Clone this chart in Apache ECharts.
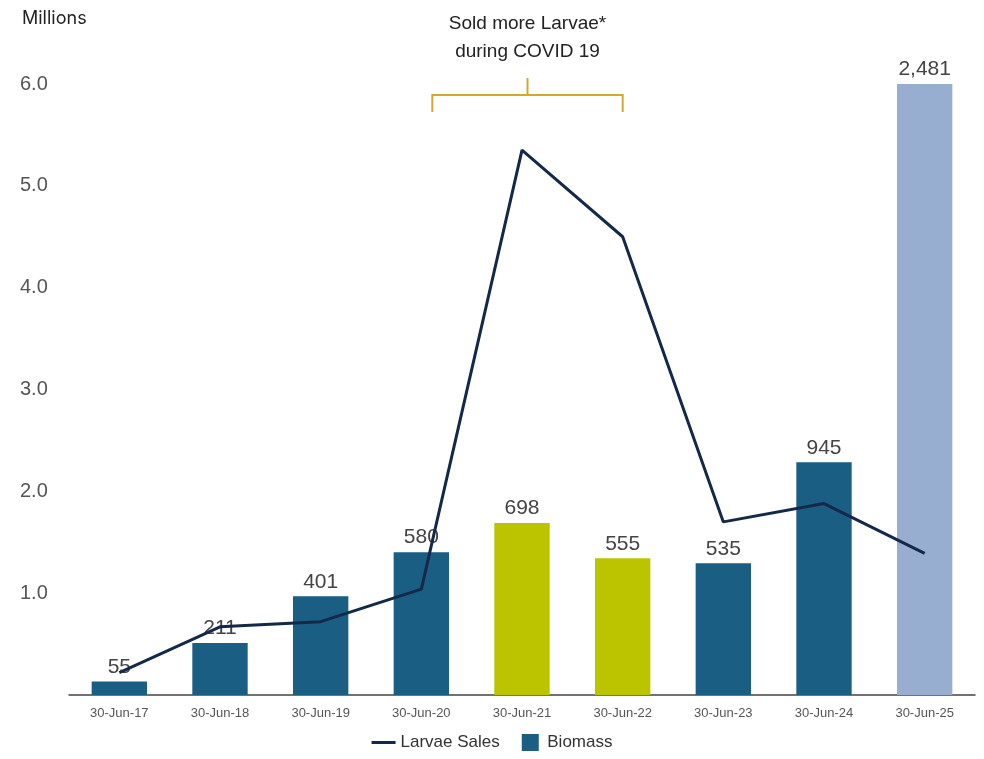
<!DOCTYPE html>
<html><head><meta charset="utf-8">
<script src="https://cdn.jsdelivr.net/npm/echarts@6/dist/echarts.min.js"></script>
<style>html,body{margin:0;padding:0;background:#fff}#c{width:984px;height:759px}</style>
</head><body><div id="c"></div>
<script>
const categories = ['30-Jun-17','30-Jun-18','30-Jun-19','30-Jun-20','30-Jun-21','30-Jun-22','30-Jun-23','30-Jun-24','30-Jun-25'];
const biomass = [55, 211, 401, 580, 698, 555, 535, 945, 2481];
const larvaeSales = [0.22, 0.67, 0.72, 1.04, 5.35, 4.50, 1.70, 1.88, 1.39];
const barColors = ['#1b5e84','#1b5e84','#1b5e84','#1b5e84','#bcc400','#bcc400','#1b5e84','#1b5e84','#98aed0'];
const yTicks = [0, 1, 2, 3, 4, 5, 6];

const FONT = 'Liberation Sans, Arial, sans-serif';
const chart = echarts.init(document.getElementById('c'));
chart.setOption({
  animation: false,
  textStyle: { fontFamily: FONT },
  grid: { left: 69, right: 9, top: 84, bottom: 64 },
  xAxis: {
    type: 'category', data: categories,
    axisLine: { lineStyle: { color: '#444', width: 1.5 } },
    axisTick: { show: false },
    axisLabel: { color: '#555', fontSize: 13, margin: 12 }
  },
  yAxis: [{
    type: 'value', min: yTicks[0], max: yTicks[yTicks.length - 1], interval: 1,
    splitLine: { show: false }, axisLine: { show: false }, axisTick: { show: false },
    axisLabel: { color: '#555', fontSize: 20, align: 'left', margin: 49,
      formatter: v => v === 0 ? '' : v.toFixed(1) }
  }, {
    type: 'value', min: 0, max: 2481, show: false
  }],
  legend: {
    bottom: 3, left: 'center', itemWidth: 24, itemHeight: 17, itemGap: 22,
    symbolKeepAspect: true,
    textStyle: { color: '#333', fontSize: 17, fontFamily: FONT },
    data: [
      { name: 'Larvae Sales', icon: 'path://M0 0H24V3H0Z', itemStyle: { color: '#14294a' } },
      { name: 'Biomass', icon: 'path://M0 0H17V17H0Z' }
    ]
  },
  series: [{
    name: 'Biomass', type: 'bar', yAxisIndex: 1, barWidth: '55%',
    itemStyle: { color: '#1b5e84' },
    data: biomass.map((v, i) => ({ value: v, itemStyle: { color: barColors[i] } })),
    label: { show: true, position: 'top', color: '#444', fontSize: 21, distance: 4,
      formatter: p => p.value.toLocaleString('en-US') }
  }, {
    name: 'Larvae Sales', type: 'line', data: larvaeSales, symbol: 'none',
    lineStyle: { color: '#14294a', width: 3 }, itemStyle: { color: '#14294a' }, z: 5
  }]
});

// annotation bracket anchored to the axes
const left = chart.convertToPixel({ xAxisIndex: 0 }, categories[3]) + 11;
const right = chart.convertToPixel({ xAxisIndex: 0 }, categories[5]);
const mid = (left + right) / 2;
const gold = '#d4a82a';
chart.setOption({
  graphic: [
    { type: 'text', left: 22, top: 10, style: { text: 'Millions', fontSize: 18, fill: '#222', fontFamily: 'Inter, ' + FONT } },
    { type: 'text', x: mid, y: 10, style: { text: 'Sold more Larvae*\nduring COVID 19', fontSize: 19, lineHeight: 28, fill: '#222', align: 'center', fontFamily: FONT } },
    { type: 'polyline', shape: { points: [[left, 112], [left, 95], [right, 95], [right, 112]] }, style: { stroke: gold, lineWidth: 2, fill: null } },
    { type: 'line', shape: { x1: mid, y1: 78, x2: mid, y2: 95 }, style: { stroke: gold, lineWidth: 2 } }
  ]
});
</script></body></html>
